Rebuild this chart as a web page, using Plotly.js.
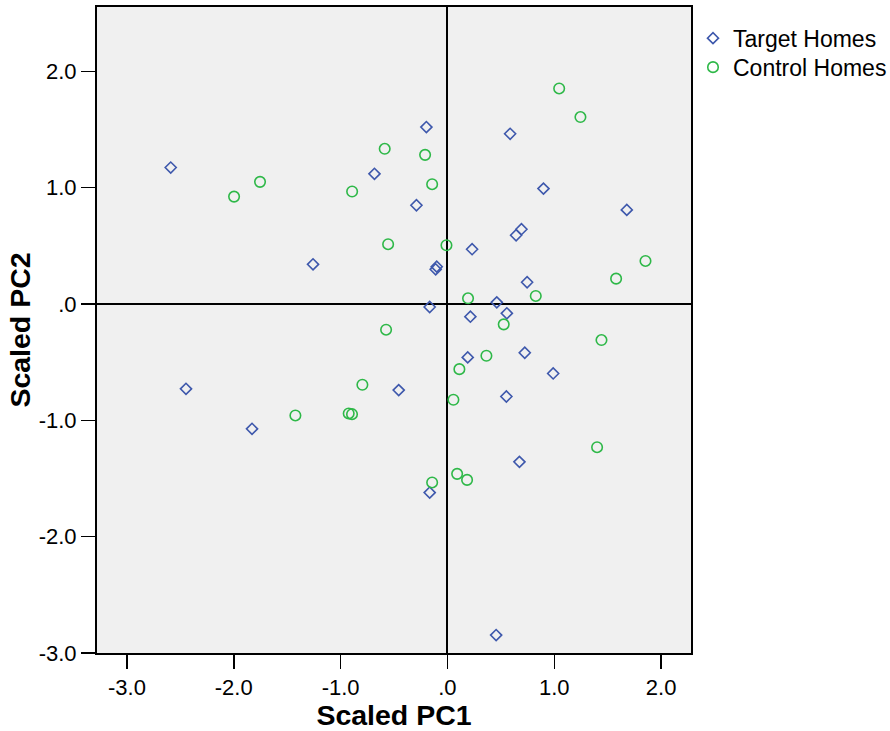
<!DOCTYPE html>
<html>
<head>
<meta charset="utf-8">
<script src="https://cdn.plot.ly/plotly-3.0.1.min.js"></script>
<style>
html,body{margin:0;padding:0;background:#fff;}
#chart{width:890px;height:731px;}
</style>
</head>
<body>
<div id="chart"></div>
<script>
// Target Homes (blue open diamonds)
const targetPC1 = [-2.59, -0.683, -0.197, -0.290, -1.258, -0.100, -0.110, -0.166, 0.587, 0.899, 1.679, 0.693, 0.643, 0.231, 0.746, 0.462, 0.556, 0.215, 0.190, 0.724, 0.990, -0.456, 0.552, 0.674, -0.166, -2.447, -1.829, 0.456];
const targetPC2 = [1.173, 1.119, 1.521, 0.849, 0.341, 0.321, 0.298, -0.026, 1.463, 0.992, 0.809, 0.643, 0.591, 0.471, 0.187, 0.014, -0.080, -0.109, -0.459, -0.419, -0.597, -0.740, -0.795, -1.357, -1.621, -0.729, -1.073, -2.846];

// Control Homes (green open circles)
const controlPC1 = [-1.997, -1.754, -0.892, -0.587, -0.209, -0.143, -0.555, -0.009, -0.574, 1.046, 1.245, 1.854, 1.579, 0.827, 0.193, 0.527, 1.442, 0.365, 0.112, -0.796, -0.924, -0.893, 0.056, 0.091, 0.184, -0.143, -1.423, 1.401];
const controlPC2 = [0.923, 1.050, 0.967, 1.334, 1.282, 1.030, 0.514, 0.505, -0.221, 1.853, 1.607, 0.370, 0.218, 0.069, 0.049, -0.175, -0.310, -0.445, -0.560, -0.694, -0.941, -0.947, -0.823, -1.460, -1.512, -1.534, -0.958, -1.231];

const seriesNames = ["Target Homes", "Control Homes"];
const xTickVals = [-3, -2, -1, 0, 1, 2];
const xTickText = ["-3.0", "-2.0", "-1.0", ".0", "1.0", "2.0"];
const yTickVals = [2, 1, 0, -1, -2, -3];
const yTickText = ["2.0", "1.0", ".0", "-1.0", "-2.0", "-3.0"];

const FONT = "Liberation Sans, Arial, sans-serif";

const traces = [
  {
    type: "scatter", mode: "markers", name: seriesNames[0], legend: "legend",
    x: targetPC1, y: targetPC2,
    marker: {symbol: "diamond-open", size: 8.5, color: "#3E58AC", line: {width: 1.6, color: "#3E58AC"}}
  },
  {
    type: "scatter", mode: "markers", name: seriesNames[1], legend: "legend2",
    x: controlPC1, y: controlPC2,
    marker: {symbol: "circle-open", size: 10.5, color: "#2EB848", line: {width: 1.6, color: "#2EB848"}}
  }
];

const axisCommon = {
  showgrid: false,
  zeroline: true, zerolinecolor: "#000", zerolinewidth: 2,
  showline: true, linecolor: "#000", linewidth: 2, mirror: true,
  ticks: "outside", ticklen: 14, tickwidth: 1.5, tickcolor: "#000",
  tickfont: {family: FONT, size: 22, color: "#000"},
  fixedrange: true
};

const legendCommon = {
  xanchor: "left", yanchor: "top",
  font: {family: FONT, size: 23, color: "#000"},
  bgcolor: "rgba(0,0,0,0)", borderwidth: 0
};

const layout = {
  width: 890, height: 731,
  margin: {l: 97, r: 199, t: 7, b: 78, autoexpand: false},
  paper_bgcolor: "#fff",
  plot_bgcolor: "#f0f0f0",
  showlegend: true,
  legend: Object.assign({}, legendCommon, {x: 1.0 + 2/594, y: 0.985}),
  legend2: Object.assign({}, legendCommon, {x: 1.0 + 2/594, y: 0.985 - 29/646}),
  xaxis: Object.assign({}, axisCommon, {
    range: [-3.28, 2.28],
    tickvals: xTickVals, ticktext: xTickText,
    title: {text: "<b>Scaled PC1</b>", font: {family: FONT, size: 28.5, color: "#000"}, standoff: 6}
  }),
  yaxis: Object.assign({}, axisCommon, {
    range: [-3.0, 2.553],
    tickvals: yTickVals, ticktext: yTickText,
    title: {text: "<b>Scaled PC2</b>", font: {family: FONT, size: 28.5, color: "#000"}, standoff: 0}
  })
};

Plotly.newPlot("chart", traces, layout, {displayModeBar: false, staticPlot: true});
</script>
</body>
</html>
